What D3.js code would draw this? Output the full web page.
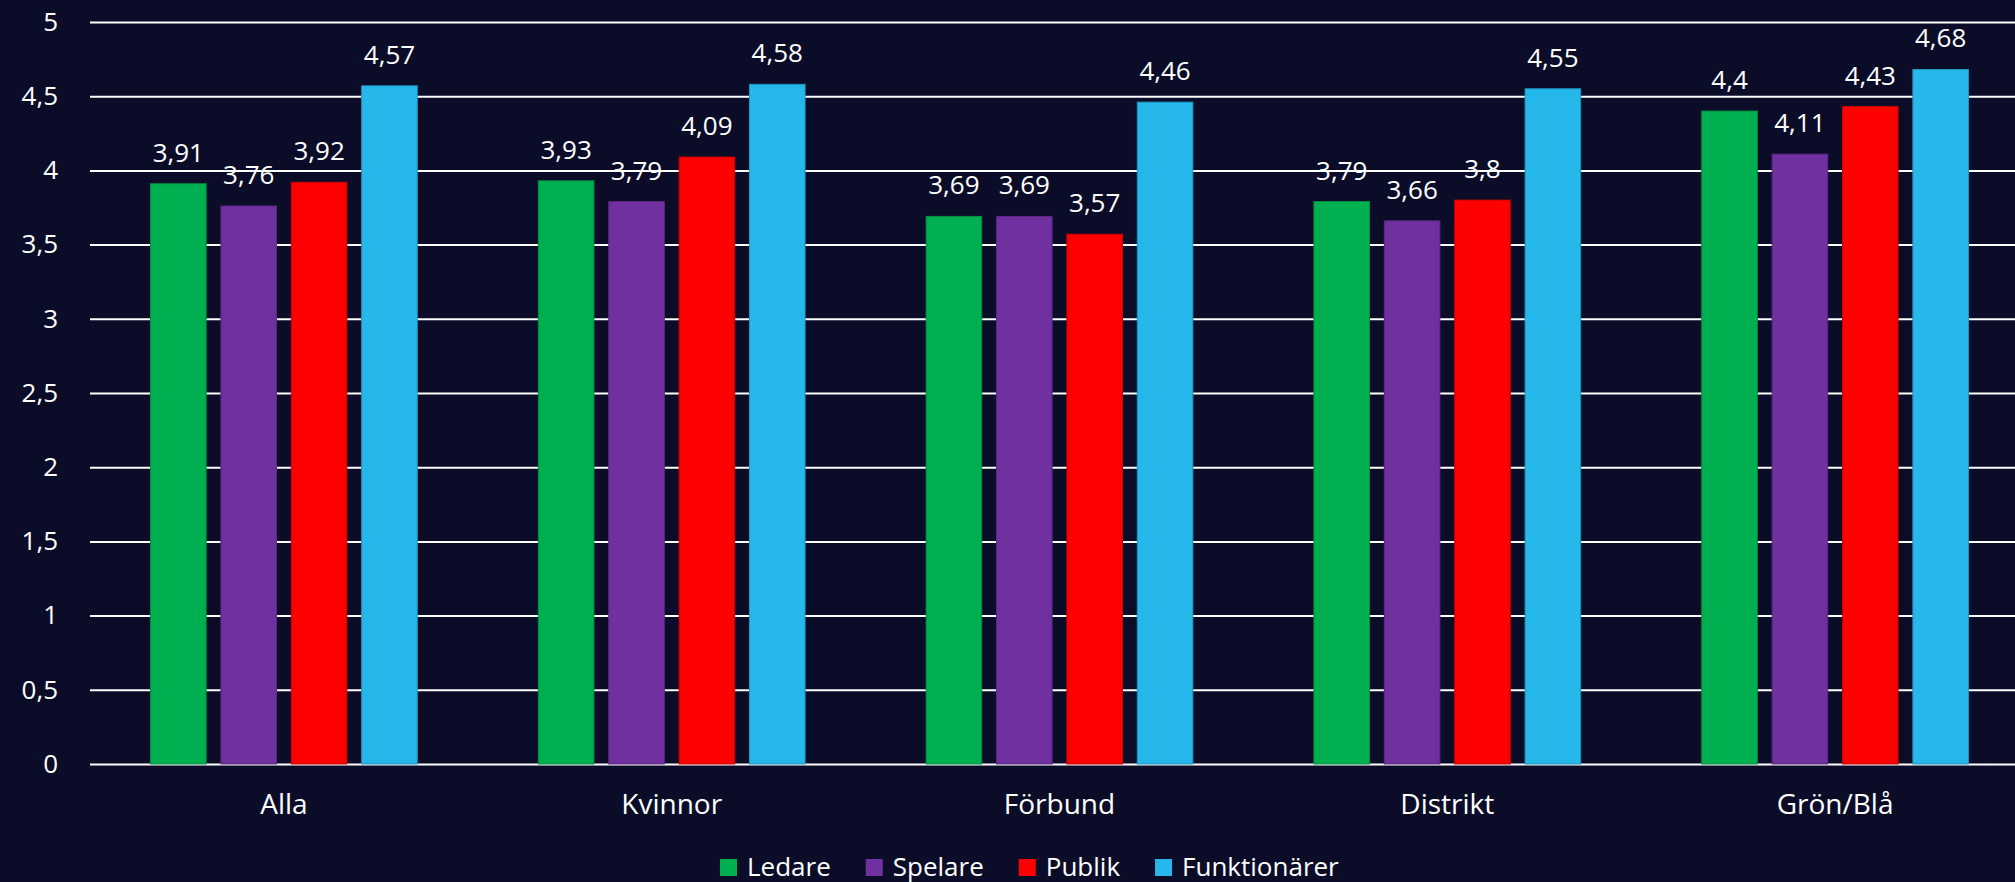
<!DOCTYPE html>
<html>
<head>
<meta charset="utf-8">
<script src="https://cdn.jsdelivr.net/npm/d3@7"></script>
<style>
  html, body { margin:0; padding:0; background:#0b0d28; }
  svg { display:block; }
  text { font-family: "Open Sans", sans-serif; fill:#ffffff; }
</style>
</head>
<body>
<svg id="chart" width="2015" height="882"></svg>
<script>
var categories = ["Alla", "Kvinnor", "Förbund", "Distrikt", "Grön/Blå"]
var seriesNames = ["Ledare", "Spelare", "Publik", "Funktionärer"]
var ledare = [3.91, 3.93, 3.69, 3.79, 4.4]
var spelare = [3.76, 3.79, 3.69, 3.66, 4.11]
var publik = [3.92, 4.09, 3.57, 3.8, 4.43]
var funktionarer = [4.57, 4.58, 4.46, 4.55, 4.68]
var yTicks = [0, 0.5, 1, 1.5, 2, 2.5, 3, 3.5, 4, 4.5, 5]

var colors = ["#00b050", "#7030a0", "#ff0000", "#27b8eb"]
var values = [ledare, spelare, publik, funktionarer]

var svg = d3.select("#chart")
var margin = {top:22, bottom:118, left:90, right:-14}
var width = 2015 - margin.left - margin.right
var height = 882 - margin.top - margin.bottom

var sv = d3.formatLocale({decimal:",", thousands:" ", grouping:[3], currency:["", ""]})
var fmt = sv.format("~g")

var x0 = d3.scaleBand()
           .domain(categories)
           .range([margin.left, margin.left + width])
           .padding(0)

var x1 = d3.scaleBand()
           .domain(seriesNames)
           .range([0, x0.bandwidth()])
           .paddingInner(0.21)
           .paddingOuter(0.86)

var y = d3.scaleLinear()
          .domain([0, 5])
          .range([margin.top + height, margin.top])

// gridlines + y labels
var yAxis = d3.axisLeft(y)
              .tickValues(yTicks)
              .tickSize(-width)
              .tickPadding(32)
              .tickFormat(fmt)

var gy = svg.append("g")
            .attr("transform", "translate(" + margin.left + ",0)")
            .call(yAxis)
gy.select(".domain").remove()
gy.selectAll("line").attr("stroke", "#ffffff").attr("stroke-width", 2)
gy.selectAll("text")
  .attr("fill", "#ffffff")
  .attr("font-size", "26px")
  .attr("font-family", "Open Sans, sans-serif")

// bars
var rows = []
categories.forEach(function(c, i){
  seriesNames.forEach(function(s, j){
    rows.push({cat:c, ser:s, v:values[j][i], j:j})
  })
})

var bars = svg.append("g").attr("id", "bars")
bars.selectAll("rect").data(rows).enter()
    .append("rect")
    .attr("x", function(d){ return x0(d.cat) + x1(d.ser) })
    .attr("y", function(d){ return y(d.v) })
    .attr("width", x1.bandwidth())
    .attr("height", function(d){ return y(0) - y(d.v) })
    .attr("fill", function(d){ return colors[d.j] })
    .attr("stroke", function(d){ return d3.color(colors[d.j]).darker(0.6) })
    .attr("stroke-width", 1)

bars.selectAll("text").data(rows).enter()
    .append("text")
    .attr("x", function(d){ return x0(d.cat) + x1(d.ser) + x1.bandwidth()/2 })
    .attr("y", function(d){ return y(d.v) - 22 })
    .attr("text-anchor", "middle")
    .attr("font-size", "26px")
    .text(function(d){ return fmt(d.v) })

// category axis
var xAxis = d3.axisBottom(x0).tickSize(0).tickPadding(30)
var gx = svg.append("g")
            .attr("transform", "translate(0," + (margin.top + height) + ")")
            .call(xAxis)
gx.select(".domain").remove()
gx.selectAll("text")
  .attr("fill", "#ffffff")
  .attr("font-size", "28px")
  .attr("font-family", "Open Sans, sans-serif")

// legend
var legend = svg.append("g")
                .attr("transform", "translate(720,859)")
var lx = 0
seriesNames.forEach(function(s, j){
  var item = legend.append("g").attr("transform", "translate(" + lx + ",0)")
  item.append("rect")
      .attr("width", 17).attr("height", 17)
      .attr("fill", colors[j])
  var t = item.append("text")
      .attr("x", 27)
      .attr("y", 17)
      .attr("font-size", "26px")
      .text(s)
  lx += 27 + t.node().getComputedTextLength() + 35
})
</script>
</body>
</html>
